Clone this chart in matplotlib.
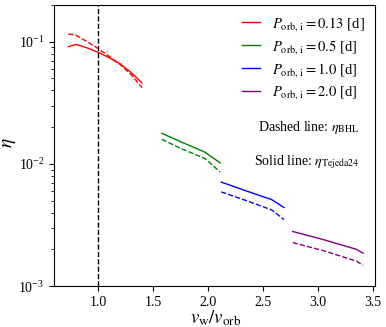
import matplotlib
matplotlib.use("Agg")
import matplotlib.pyplot as plt

plt.rcParams["font.family"] = ["Liberation Serif", "DejaVu Serif"]
plt.rcParams["mathtext.fontset"] = "stix"

# eta(v_w / v_orb) for each initial orbital period; solid = Tejeda24, dashed = BHL
x_013 = [0.73, 0.80, 0.90, 1.00, 1.10, 1.20, 1.30, 1.40]
sol_013 = [0.091, 0.095, 0.089, 0.082, 0.074, 0.066, 0.056, 0.046]
das_013 = [0.116, 0.113, 0.100, 0.088, 0.076, 0.065, 0.054, 0.042]

x_05 = [1.58, 1.75, 1.97, 2.11]
sol_05 = [0.0178, 0.0152, 0.0125, 0.0102]
das_05 = [0.0159, 0.0134, 0.0111, 0.0086]

x_10 = [2.12, 2.35, 2.58, 2.69]
sol_10 = [0.0071, 0.0060, 0.0051, 0.0044]
das_10 = [0.0059, 0.0050, 0.0042, 0.0035]

x_20 = [2.77, 3.05, 3.35, 3.41]
sol_20 = [0.0028, 0.0024, 0.0020, 0.00186]
das_20 = [0.00227, 0.00195, 0.00160, 0.00148]

periods = ["0.13", "0.5", "1.0", "2.0"]
colors = ["red", "green", "blue", "purple"]
series = [(x_013, sol_013, das_013), (x_05, sol_05, das_05),
          (x_10, sol_10, das_10), (x_20, sol_20, das_20)]

fig = plt.figure(figsize=(3.86, 3.27), dpi=100)
ax = fig.add_axes([0.14, 0.125, 0.832, 0.86])

for (x, s, d), p, c in zip(series, periods, colors):
    ax.plot(x, s, "-", color=c, lw=1.0,
            label=r"$P_{\rm orb,\,i}=%s$ [d]" % p)
    ax.plot(x, d, "--", color=c, lw=1.0)

ax.axvline(1.0, color="black", ls="--", lw=1.0)
ax.set_yscale("log")
ax.set_xlim(0.6, 3.52)
ax.set_ylim(1e-3, 0.2)
ax.set_xlabel(r"$v_{\rm w}/v_{\rm orb}$", fontsize=13.5)
ax.set_ylabel(r"$\eta$", fontsize=14)
ax.xaxis.set_label_coords(0.504, -0.078)
ax.yaxis.set_label_coords(-0.112, 0.51)
ax.tick_params(labelsize=10)

ax.legend(loc="upper right", frameon=False, fontsize=10.5, handlelength=1.3,
          borderaxespad=0.3, labelspacing=0.35)
ax.text(0.95, 0.565, r"Dashed line: $\eta_{\rm BHL}$", transform=ax.transAxes,
        ha="right", va="center", fontsize=10)
ax.text(0.95, 0.44, r"Solid line: $\eta_{\rm Tejeda24}$", transform=ax.transAxes,
        ha="right", va="center", fontsize=10)

fig.savefig("out.png", dpi=100)
